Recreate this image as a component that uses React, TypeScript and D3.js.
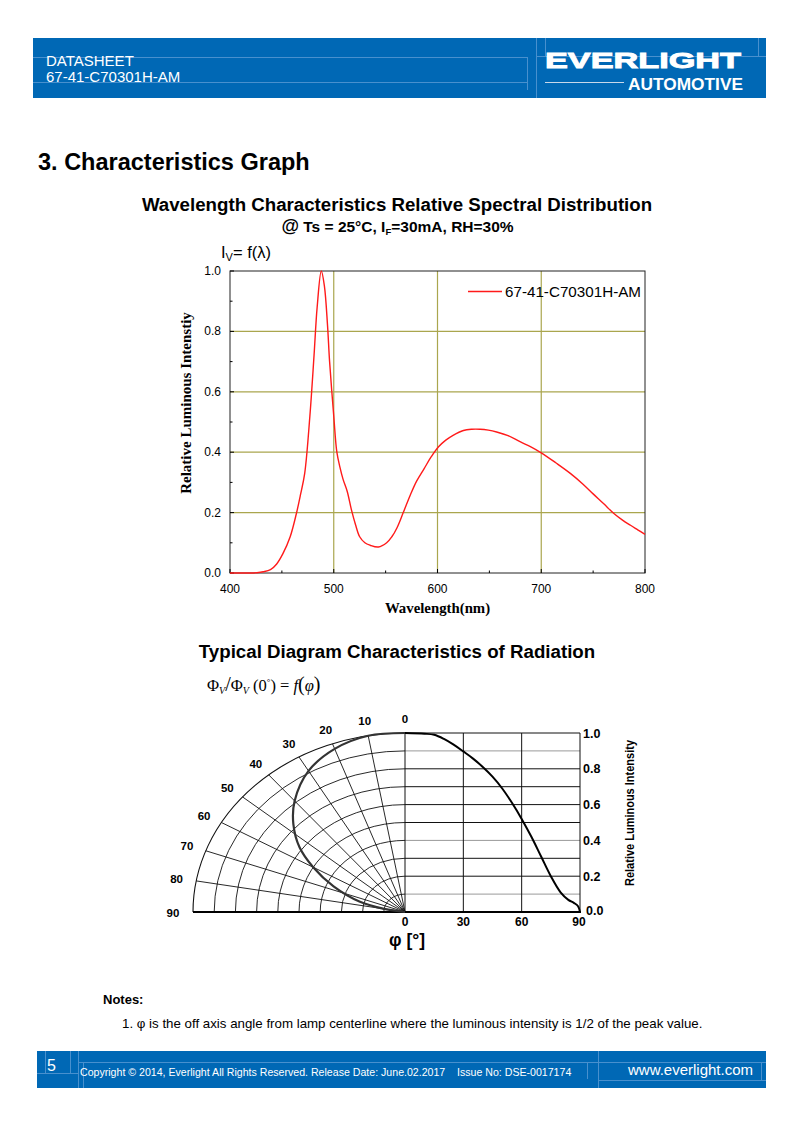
import React from "react";
import * as d3 from "d3";

// ── Spectral distribution ──────────────────────────────────────────────────
const wavelengths = [
  400, 420, 426, 432, 439, 445, 451, 458, 464, 468, 472, 477, 481, 484, 488, 491, 494, 496, 500, 503,
  506, 509, 513, 517, 521, 525, 530, 535, 543, 551, 556, 561, 567, 574, 580, 587, 594, 601, 608, 615,
  625, 633, 641, 649, 657, 668, 680, 690, 700, 714, 728, 740, 750, 760, 770, 778, 786, 793, 800,
];
const intensity = [
  0.0, 0.0, 0.001, 0.004, 0.011, 0.03, 0.064, 0.12, 0.197, 0.26, 0.33, 0.52, 0.72, 0.88, 1.0, 0.95, 0.82,
  0.7, 0.52, 0.4, 0.35, 0.31, 0.27, 0.21, 0.16, 0.12, 0.1, 0.092, 0.086, 0.1, 0.12, 0.15, 0.2, 0.26,
  0.305, 0.345, 0.385, 0.418, 0.44, 0.456, 0.472, 0.476, 0.476, 0.473, 0.467, 0.455, 0.434, 0.418,
  0.398, 0.365, 0.33, 0.295, 0.262, 0.23, 0.197, 0.176, 0.158, 0.143, 0.128,
];
const xTicks = [400, 500, 600, 700, 800];
const yTicks = [0.0, 0.2, 0.4, 0.6, 0.8, 1.0];
const seriesName = "67-41-C70301H-AM";

// ── Radiation pattern ──────────────────────────────────────────────────────
const polarAngles = [0, 10, 20, 30, 40, 47, 54, 60, 67, 75, 80, 90];
const polarValues = [1.0, 1.0, 0.97, 0.91, 0.81, 0.72, 0.615, 0.5, 0.366, 0.22, 0.1, 0.0];
const cartAngles = [0, 10, 15, 20, 25, 30, 35, 40, 45, 50, 55, 60, 65, 70, 75, 80, 84, 87, 89, 90];
const cartValues = [
  1.0, 0.996, 0.99, 0.967, 0.935, 0.897, 0.857, 0.81, 0.756, 0.69, 0.61, 0.52, 0.42, 0.31, 0.2, 0.11,
  0.068, 0.05, 0.032, 0.0,
];
const polarLabels = [0, 10, 20, 30, 40, 50, 60, 70, 80, 90];
const radialRings = [0.1, 0.2, 0.3, 0.4, 0.5, 0.6, 0.7, 0.8, 0.9, 1.0];
const cartXTicks = [0, 30, 60, 90];
const cartYTicks = [0.0, 0.2, 0.4, 0.6, 0.8, 1.0];
const cartGrid = [0.1, 0.2, 0.3, 0.4, 0.5, 0.6, 0.7, 0.8, 0.9];

const SANS = "'Liberation Sans', Arial, sans-serif";
const SERIF = "'Liberation Serif', 'Times New Roman', serif";
const BLUE = "#0068b5";
const GRID = "#aaa64e";

function Header() {
  return (
    <g>
      <rect x={33} y={38} width={733} height={60} fill={BLUE} />
      <g stroke="#5b9bd5" strokeWidth={1} opacity={0.8}>
        <line x1={33} y1={57.5} x2={527} y2={57.5} />
        <line x1={33} y1={82.5} x2={527} y2={82.5} />
        <line x1={527.5} y1={57} x2={527.5} y2={90} />
        <line x1={536.5} y1={38} x2={536.5} y2={98} />
        <line x1={536} y1={56.5} x2={766} y2={56.5} />
        <line x1={545.5} y1={38} x2={545.5} y2={56} />
        <line x1={758.5} y1={38} x2={758.5} y2={56} />
      </g>
      <text x={46} y={66} fill="#fff" fontFamily={SANS} fontSize={15}>DATASHEET</text>
      <text x={46} y={82} fill="#fff" fontFamily={SANS} fontSize={15}>67-41-C70301H-AM</text>
      <text x={545} y={67.5} fill="#fff" stroke="#fff" strokeWidth={0.9} fontFamily={SANS} fontSize={22.5}
        fontWeight="bold" textLength={196} lengthAdjust="spacingAndGlyphs">EVERLIGHT</text>
      <line x1={545} y1={82.5} x2={624} y2={82.5} stroke="#c8d8ea" strokeWidth={1} />
      <text x={628} y={89.7} fill="#fff" fontFamily={SANS} fontSize={17} fontWeight="bold"
        textLength={115} lengthAdjust="spacingAndGlyphs">AUTOMOTIVE</text>
    </g>
  );
}

function Footer() {
  return (
    <g>
      <rect x={37} y={1051} width={729} height={37} fill={BLUE} />
      <g stroke="#5b9bd5" strokeWidth={1} opacity={0.8}>
        <line x1={45.5} y1={1051} x2={45.5} y2={1073} />
        <line x1={70.5} y1={1051} x2={70.5} y2={1073} />
        <line x1={37} y1={1073.5} x2={78} y2={1073.5} />
        <line x1={78.5} y1={1051} x2={78.5} y2={1088} />
        <line x1={78} y1={1062.5} x2={766} y2={1062.5} />
        <line x1={83.5} y1={1062} x2={83.5} y2={1088} />
        <line x1={587.5} y1={1062} x2={587.5} y2={1079} />
        <line x1={598.5} y1={1051} x2={598.5} y2={1088} />
        <line x1={598} y1={1080.5} x2={766} y2={1080.5} />
        <line x1={761.5} y1={1062} x2={761.5} y2={1080} />
      </g>
      <text x={47} y={1071} fill="#fff" fontFamily={SANS} fontSize={16}>5</text>
      <text x={80} y={1076} fill="#fff" fontFamily={SANS} fontSize={10.6}>
        Copyright © 2014, Everlight All Rights Reserved. Release Date: June.02.2017{"\u00a0\u00a0\u00a0\u00a0"}Issue No: DSE-0017174
      </text>
      <text x={628} y={1075} fill="#fff" fontFamily={SANS} fontSize={15}>www.everlight.com</text>
    </g>
  );
}

function SpectrumChart() {
  const left = 230, right = 645, top = 271, bottom = 573;
  const x = d3.scaleLinear().domain([400, 800]).range([left, right]);
  const y = d3.scaleLinear().domain([0, 1]).range([bottom, top]);
  const pts = wavelengths.map((w, i) => [w, intensity[i]] as [number, number]);
  const line = d3.line<[number, number]>().x((d) => x(d[0])).y((d) => y(d[1])).curve(d3.curveCatmullRom.alpha(0.5));
  const minorX = d3.range(450, 800, 100);
  const minorY = d3.range(0.1, 1.0, 0.2);
  return (
    <g>
      <text x={397} y={211} textAnchor="middle" fontFamily={SANS} fontSize={18.7} fontWeight="bold">
        Wavelength Characteristics Relative Spectral Distribution
      </text>
      <text x={397.5} y={232} textAnchor="middle" fontFamily={SANS} fontSize={15.5} fontWeight="bold">
        <tspan fontSize={18}>@</tspan> Ts = 25°C, I<tspan fontSize={9.5} dy={3}>F</tspan><tspan dy={-3}>=30mA, RH=30%</tspan>
      </text>
      <text x={221} y={258} fontFamily={SANS} fontSize={16.5}>
        I<tspan fontSize={11} dy={3}>V</tspan><tspan dy={-3}>= f(λ)</tspan>
      </text>
      {/* grid */}
      {xTicks.slice(1, -1).map((t) => (
        <line key={"gx" + t} x1={x(t)} x2={x(t)} y1={top} y2={bottom} stroke={GRID} strokeWidth={1.2} />
      ))}
      {yTicks.slice(1, -1).map((t) => (
        <line key={"gy" + t} x1={left} x2={right} y1={y(t)} y2={y(t)} stroke={GRID} strokeWidth={1.2} />
      ))}
      {/* frame */}
      <rect x={left} y={top} width={right - left} height={bottom - top} fill="none" stroke="#222" strokeWidth={1} />
      {/* ticks */}
      {xTicks.map((t) => (
        <g key={"tx" + t}>
          <line x1={x(t)} x2={x(t)} y1={bottom} y2={bottom - 4} stroke="#000" />
          <text x={x(t)} y={593} textAnchor="middle" fontFamily={SANS} fontSize={12}>{t}</text>
        </g>
      ))}
      {minorX.map((t) => (
        <line key={"mx" + t} x1={x(t)} x2={x(t)} y1={bottom} y2={bottom - 2.5} stroke="#000" />
      ))}
      {yTicks.map((t) => (
        <g key={"ty" + t}>
          <line x1={left} x2={left + 4} y1={y(t)} y2={y(t)} stroke="#000" />
          <text x={221} y={y(t) + 4} textAnchor="end" fontFamily={SANS} fontSize={12}>{t.toFixed(1)}</text>
        </g>
      ))}
      {minorY.map((t) => (
        <line key={"my" + t} x1={left} x2={left + 2.5} y1={y(t)} y2={y(t)} stroke="#000" />
      ))}
      {/* series */}
      <path d={line(pts) ?? ""} fill="none" stroke="#ff1a1a" strokeWidth={1.4} />
      {/* legend */}
      <line x1={468} x2={502} y1={291.5} y2={291.5} stroke="#ff1a1a" strokeWidth={1.4} />
      <text x={505} y={297} fontFamily={SANS} fontSize={14.5} textLength={136} lengthAdjust="spacingAndGlyphs">
        {seriesName}
      </text>
      {/* axis titles */}
      <text x={437.5} y={613} textAnchor="middle" fontFamily={SERIF} fontSize={14.8} fontWeight="bold">
        Wavelength(nm)
      </text>
      <text transform={`translate(191,403) rotate(-90)`} textAnchor="middle"
        fontFamily={SERIF} fontSize={15} fontWeight="bold">
        Relative Luminous Intenstiy
      </text>
    </g>
  );
}

function RadiationChart() {
  const cx = 405, cy = 912;
  // the polar half is drawn wider than tall, as in the reference
  const rX = d3.scaleLinear().domain([0, 1]).range([0, 212]);
  const rY = d3.scaleLinear().domain([0, 1]).range([0, 179]);
  const rad = (deg: number) => (deg * Math.PI) / 180;
  const px = (a: number, v: number) => cx - rX(v) * Math.sin(rad(a));
  const py = (a: number, v: number) => cy - rY(v) * Math.cos(rad(a));
  const polarLine = d3
    .line<number>()
    .x((i) => px(polarAngles[i], polarValues[i]))
    .y((i) => py(polarAngles[i], polarValues[i]))
    .curve(d3.curveCatmullRom.alpha(0.5));
  const xs = d3.scaleLinear().domain([0, 90]).range([cx, 580]);
  const ys = d3.scaleLinear().domain([0, 1]).range([cy, cy - 179]);
  const cartLine = d3
    .line<number>()
    .x((i) => xs(cartAngles[i]))
    .y((i) => ys(cartValues[i]))
    .curve(d3.curveCatmullRom.alpha(0.5));

  const arcPath = (v: number) =>
    `M${cx - rX(v)},${cy} A${rX(v)},${rY(v)} 0 0 1 ${cx},${cy - rY(v)}`;

  return (
    <g>
      <text x={397} y={658} textAnchor="middle" fontFamily={SANS} fontSize={18.7} fontWeight="bold">
        Typical Diagram Characteristics of Radiation
      </text>
      <text x={207} y={691} fontFamily={SERIF} fontSize={16.5}>
        Φ<tspan fontSize={10} dy={3} fontStyle="italic">V</tspan>
        <tspan dy={-3} fontSize={20}>/</tspan>Φ<tspan fontSize={10} dy={3} fontStyle="italic">V</tspan>
        <tspan dy={-3}> (0</tspan><tspan fontSize={9} dy={-6}>°</tspan><tspan dy={6}>) = </tspan>
        <tspan fontStyle="italic">f</tspan><tspan fontSize={20}>(</tspan><tspan fontStyle="italic">φ</tspan>
        <tspan fontSize={20}>)</tspan>
      </text>

      {/* polar rings */}
      {radialRings.map((v) => (
        <path key={"ring" + v} d={arcPath(v)} fill="none" stroke="#111" strokeWidth={v === 1 ? 1.1 : 0.9} />
      ))}
      {/* polar spokes */}
      {polarLabels.slice(1, -1).map((a) => (
        <line key={"sp" + a} x1={cx} y1={cy} x2={px(a, 1)} y2={py(a, 1)} stroke="#111" strokeWidth={0.9} />
      ))}
      {/* polar labels */}
      {polarLabels.map((a) => (
        <text key={"pl" + a} x={cx - 232 * Math.sin(rad(a))} y={cy - 194 * Math.cos(rad(a)) + 4.5}
          textAnchor="middle" fontFamily={SANS} fontSize={11.5} fontWeight="bold">{a}</text>
      ))}

      {/* cartesian grid */}
      {cartGrid.map((v) => (
        <line key={"cg" + v} x1={cx} x2={580} y1={ys(v)} y2={ys(v)}
          stroke={[0.1, 0.4, 0.9].includes(v) ? "#999" : "#111"} strokeWidth={1} />
      ))}
      {cartXTicks.slice(1).map((t) => (
        <line key={"cx" + t} x1={xs(t)} x2={xs(t)} y1={ys(1)} y2={cy} stroke="#111" strokeWidth={1} />
      ))}
      <line x1={cx} x2={580} y1={ys(1)} y2={ys(1)} stroke="#111" strokeWidth={1} />
      <line x1={cx} x2={cx} y1={ys(1)} y2={cy} stroke="#111" strokeWidth={1} />
      {/* baseline */}
      <line x1={193} x2={581} y1={cy} y2={cy} stroke="#000" strokeWidth={2} />

      {/* curves */}
      <path d={polarLine(d3.range(polarAngles.length)) ?? ""} fill="none" stroke="#333" strokeWidth={2.2} />
      <path d={cartLine(d3.range(cartAngles.length)) ?? ""} fill="none" stroke="#000" strokeWidth={2} />

      {/* axis labels */}
      {cartXTicks.map((t) => (
        <text key={"cxl" + t} x={t === 90 ? xs(t) - 1 : xs(t)} y={cy + 14} textAnchor="middle" fontFamily={SANS}
          fontSize={12} fontWeight="bold">{t}</text>
      ))}
      {cartYTicks.map((t) => (
        <text key={"cyl" + t} x={t === 0 ? 586 : 583} y={ys(t) + (t === 0 ? 2.5 : 4.5)} fontFamily={SANS}
          fontSize={12.5} fontWeight="bold">
          {t.toFixed(1)}
        </text>
      ))}
      <text transform={`translate(634,${cy - 99}) rotate(-90)`} textAnchor="middle" fontFamily={SANS}
        fontSize={12.5} fontWeight="bold" textLength={146} lengthAdjust="spacingAndGlyphs">
        Relative Luminous Intensity
      </text>
      <text x={389} y={946} fontFamily={SANS} fontSize={17.5} fontWeight="bold">φ [°]</text>
    </g>
  );
}

export default function App() {
  return (
    <div style={{ position: "absolute", left: 0, top: 0 }}>
      <svg width={794} height={1123} viewBox="0 0 794 1123" style={{ display: "block", background: "#fff" }}>
        <Header />
        <text x={38} y={170} fontFamily={SANS} fontSize={23.5} fontWeight="bold">3. Characteristics Graph</text>
        <SpectrumChart />
        <RadiationChart />
        <text x={103} y={1004} fontFamily={SANS} fontSize={13} fontWeight="bold">Notes:</text>
        <text x={122} y={1028} fontFamily={SANS} fontSize={13.3}>
          1. φ is the off axis angle from lamp centerline where the luminous intensity is 1/2 of the peak value.
        </text>
        <Footer />
      </svg>
    </div>
  );
}
